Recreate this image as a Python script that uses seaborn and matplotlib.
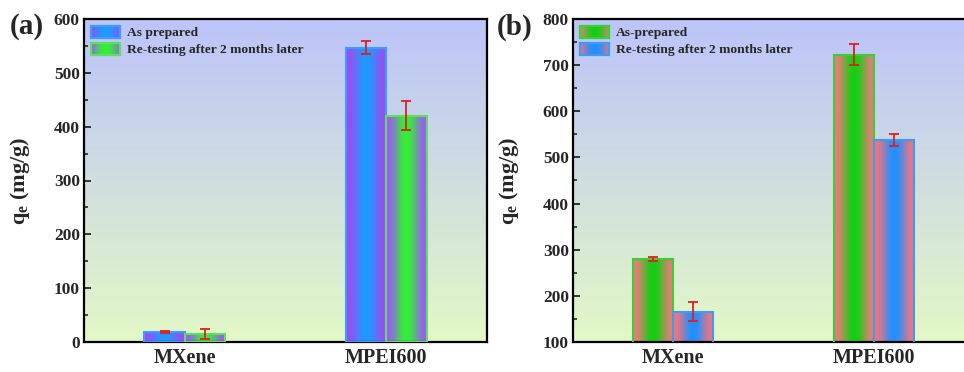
import numpy as np
import pandas as pd
import matplotlib
matplotlib.use("Agg")
import matplotlib.pyplot as plt
import seaborn as sns
from matplotlib.colors import to_rgb
from matplotlib.patches import Patch, Rectangle
from matplotlib.legend_handler import HandlerBase
from matplotlib.image import BboxImage
from matplotlib.transforms import Bbox, TransformedBbox
from matplotlib.ticker import MultipleLocator

# ---------------- data ----------------
categories = ["MXene", "MPEI600"]

a_series = ["As prepared", "Re-testing after 2 months later"]
a_asprep = [18, 547]
a_asprep_err = [2, 12]
a_retest = [15, 420]
a_retest_err = [9, 27]

b_series = ["As-prepared", "Re-testing after 2 months later"]
b_asprep = [280, 723]
b_asprep_err = [5, 22]
b_retest = [166, 538]
b_retest_err = [21, 13]

a_yticks = [0, 100, 200, 300, 400, 500, 600]
b_yticks = [100, 200, 300, 400, 500, 600, 700, 800]

# ---------------- style ----------------
sns.set_theme(style="ticks")
plt.rcParams["font.family"] = ["Liberation Serif", "DejaVu Serif"]
plt.rcParams["font.weight"] = "bold"
plt.rcParams["mathtext.fontset"] = "custom"
plt.rcParams["mathtext.rm"] = "Liberation Serif:bold"
plt.rcParams["mathtext.bf"] = "Liberation Serif:bold"
plt.rcParams["mathtext.it"] = "Liberation Serif:bold"

BG_TOP = "#bcc4f9"
BG_BOT = "#e3f8c6"


def hgrad(edge, center, n=64, power=2.2):
    x = np.linspace(0, 1, n)
    t = np.sin(np.pi * x) ** power
    e = np.array(to_rgb(edge))
    c = np.array(to_rgb(center))
    row = e[None, :] * (1 - t[:, None]) + c[None, :] * t[:, None]
    return row[None, :, :]


def vgrad(top, bot, n=128):
    t = np.linspace(0, 1, n)
    a = np.array(to_rgb(top))
    b = np.array(to_rgb(bot))
    col = a[None, :] * (1 - t[:, None]) + b[None, :] * t[:, None]
    return col[:, None, :]


class GradHandler(HandlerBase):
    def __init__(self, grad, edge):
        super().__init__()
        self.grad = grad
        self.edge = edge

    def create_artists(self, legend, orig_handle, xdescent, ydescent,
                       width, height, fontsize, trans):
        bb = Bbox.from_bounds(-xdescent, -ydescent, width, height)
        img = BboxImage(TransformedBbox(bb, trans), interpolation="bilinear")
        img.set_data(self.grad)
        rect = Rectangle((-xdescent, -ydescent), width, height, fill=False,
                         edgecolor=self.edge, lw=1.6, transform=trans)
        return [img, rect]


W, H = 964, 372
fig = plt.figure(figsize=(W / 100, H / 100), dpi=100)
fig.patch.set_facecolor("white")

panels = [
    dict(rect=[84 / W, 30 / H, 403 / W, 323 / H], series=a_series,
         vals=[a_asprep, a_retest], errs=[a_asprep_err, a_retest_err],
         ylim=(0, 600), yticks=a_yticks, label="(a)", lx=10 / W,
         grads=[("#9a4ef2", "#1e9bff", "#35a0ff"), ("#9a5ef2", "#34f034", "#5ee05e")]),
    dict(rect=[573 / W, 30 / H, 401 / W, 323 / H], series=b_series,
         vals=[b_asprep, b_retest], errs=[b_asprep_err, b_retest_err],
         ylim=(100, 800), yticks=b_yticks, label="(b)", lx=497 / W,
         grads=[("#ea7c78", "#12d012", "#38d038"), ("#f07482", "#2090ff", "#3c9cf0")]),
]

for p in panels:
    ax = fig.add_axes(p["rect"])
    rows = []
    for s, v in zip(p["series"], p["vals"]):
        for c, val in zip(categories, v):
            rows.append(dict(material=c, series=s, qe=val))
    df = pd.DataFrame(rows)
    sns.barplot(data=df, x="material", y="qe", hue="series", order=categories,
                hue_order=p["series"], width=0.4, gap=0, errorbar=None,
                legend=False, ax=ax, palette=["#888888", "#aaaaaa"])

    # background gradient
    ax.imshow(vgrad(BG_TOP, BG_BOT), extent=[0, 1, 0, 1], transform=ax.transAxes,
              aspect="auto", zorder=0, interpolation="bilinear")

    handles = []
    hmap = {}
    for cont, (e, c, ec), errs, s in zip(ax.containers, p["grads"], p["errs"], p["series"]):
        g = hgrad(e, c)
        xs, ys = [], []
        for bar in cont.patches:
            x0 = bar.get_x()
            w = bar.get_width()
            h = bar.get_height()
            ax.imshow(g, extent=[x0, x0 + w, 0, h], aspect="auto", zorder=2,
                      interpolation="bilinear")
            bar.set_facecolor("none")
            bar.set_edgecolor(ec)
            bar.set_linewidth(1.5)
            bar.set_zorder(3)
            xs.append(x0 + w / 2)
            ys.append(h)
        ax.errorbar(xs, ys, yerr=errs, fmt="none", ecolor="#e01e1e", elinewidth=1.3,
                    capsize=3.5, capthick=1.3, zorder=4)
        hd = Patch(label=s)
        handles.append(hd)
        hmap[hd] = GradHandler(hgrad(e, c, power=1.0), ec)

    ax.set_xlim(-0.5, 1.5)
    ax.set_ylim(*p["ylim"])
    ax.set_aspect("auto")
    ax.set_yticks(p["yticks"])
    ax.yaxis.set_minor_locator(MultipleLocator(50))
    ax.tick_params(axis="y", which="major", direction="in", length=5, width=1.3,
                   labelsize=12.5, pad=3)
    ax.tick_params(axis="y", which="minor", direction="in", length=3, width=1.2)
    ax.tick_params(axis="x", length=0, labelsize=14.5, pad=4)
    for lab in ax.get_xticklabels() + ax.get_yticklabels():
        lab.set_fontweight("bold")
    ax.set_xlabel("")
    ax.set_ylabel(r"$\mathregular{q_e}$ (mg/g)", fontsize=16, fontweight="bold")
    ax.yaxis.set_label_coords(-0.13, 0.5)
    for sp in ax.spines.values():
        sp.set_linewidth(1.6)
        sp.set_color("black")
        sp.set_visible(True)

    ax.legend(handles=handles, handler_map=hmap, loc="upper left", frameon=False,
              prop=dict(family="Liberation Serif", weight="bold", size=9.7),
              handlelength=2.2, handleheight=1.0, handletextpad=0.5,
              labelspacing=0.25, borderaxespad=0.4, borderpad=0.1)

    fig.text(p["lx"], 1 - 27 / H, p["label"], fontsize=21, fontweight="bold",
             va="center", ha="left")

fig.savefig("out.png", dpi=100)
